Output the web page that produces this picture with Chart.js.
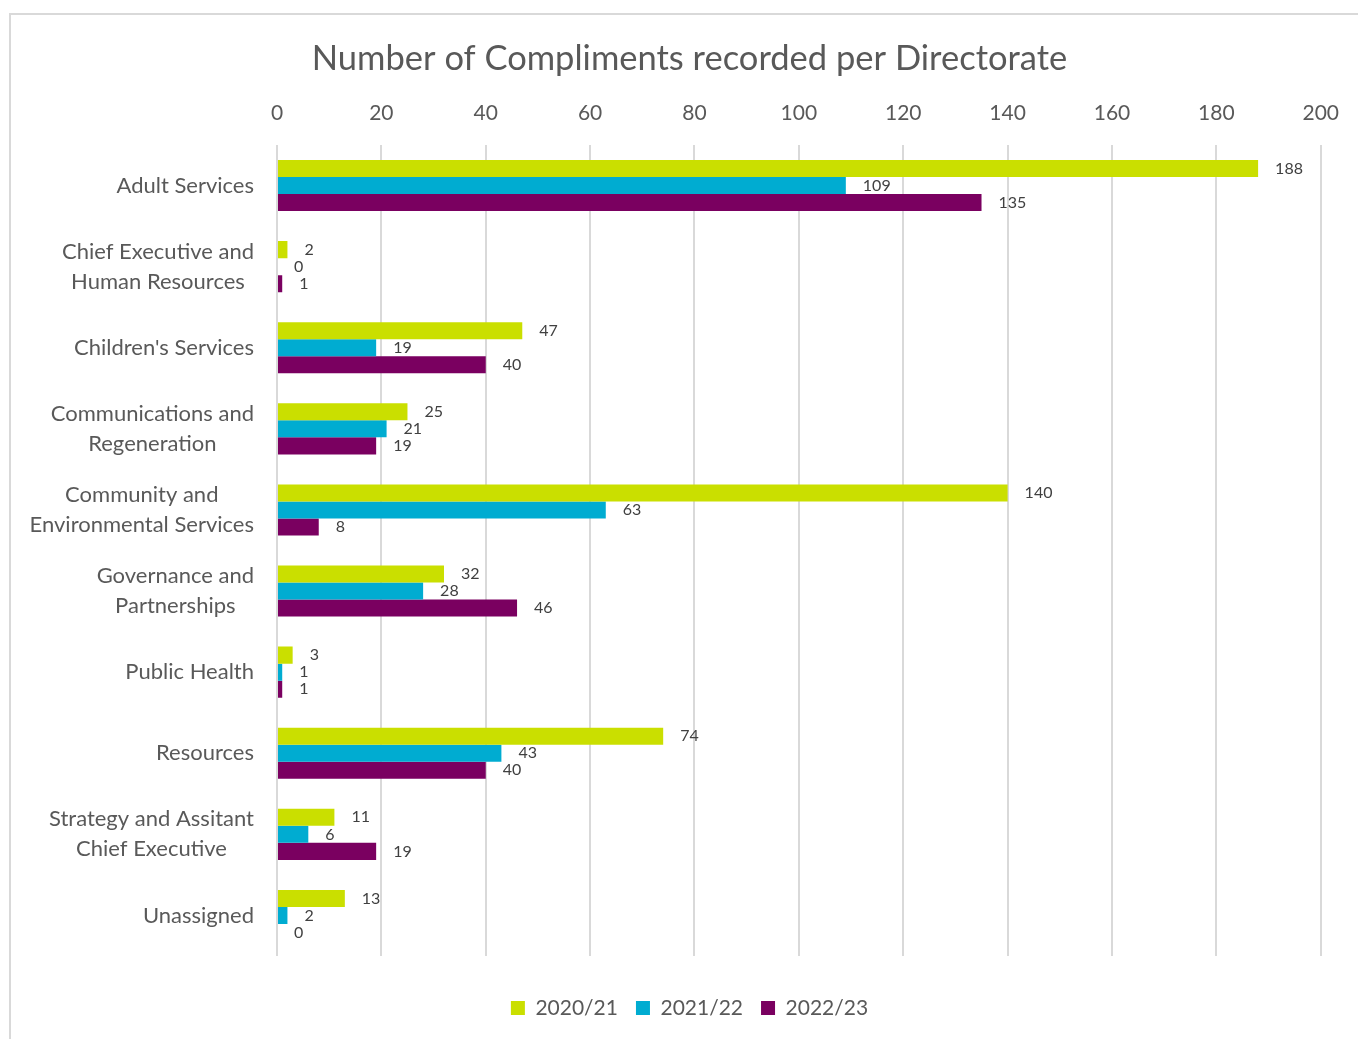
<!DOCTYPE html>
<html lang="en">
<head>
  <meta charset="UTF-8">
  <title>Compliments per Directorate</title>
  <script src="https://cdn.jsdelivr.net/npm/chart.js"></script>
  <style>
    html, body {
      margin: 0;
      padding: 0;
      background: #fff;
      overflow: hidden;
    }

    .page {
      position: relative;
      width: 1358px;
      height: 1039px;
      overflow: hidden;
    }

    .frame {
      position: absolute;
      left: 9px;
      top: 13px;
      width: 1400px;
      height: 1100px;
      border: 2px solid #d9d9d9;
    }

    .chart-box {
      position: absolute;
      left: 0;
      top: 0;
      width: 1358px;
      height: 1039px;
    }
  </style>
</head>
<body>
  <div class="page">
    <div class="frame"></div>
    <div class="chart-box">
      <canvas id="complimentsChart"></canvas>
    </div>
  </div>

  <script>
    const categories = [
      "Adult Services",
      ["Chief Executive and", "Human Resources"],
      "Children's Services",
      ["Communications and", "Regeneration"],
      ["Community and", "Environmental Services"],
      ["Governance and", "Partnerships"],
      "Public Health",
      "Resources",
      ["Strategy and Assitant", "Chief Executive"],
      "Unassigned"
    ];
    const seriesNames = ["2020/21", "2021/22", "2022/23"];
    const values2020 = [188, 2, 47, 25, 140, 32, 3, 74, 11, 13];
    const values2021 = [109, 0, 19, 21, 63, 28, 1, 43, 6, 2];
    const values2022 = [135, 1, 40, 19, 8, 46, 1, 40, 19, 0];
    const colors = ["#cadf00", "#00acd1", "#7a0060"];

    const FONT = "Lato, 'Open Sans', sans-serif";
    const TEXT = "#595959";

    // value labels just past the end of each bar
    const barLabels = {
      id: "barLabels",
      afterDatasetsDraw(chart) {
        const ctx = chart.ctx;
        ctx.save();
        ctx.font = "16px " + FONT;
        ctx.fillStyle = "#404040";
        ctx.textAlign = "left";
        ctx.textBaseline = "middle";
        chart.data.datasets.forEach((ds, i) => {
          chart.getDatasetMeta(i).data.forEach((bar, j) => {
            ctx.fillText(String(ds.data[j]), bar.x + 17, bar.y);
          });
        });
        ctx.restore();
      }
    };

    // category labels: block right-aligned, lines centred on each other (like Excel)
    const categoryLabels = {
      id: "categoryLabels",
      afterDraw(chart) {
        const ctx = chart.ctx;
        const yScale = chart.scales.y;
        const right = chart.chartArea.left - 23;
        const lineH = 30;
        ctx.save();
        ctx.font = "22px " + FONT;
        ctx.fillStyle = TEXT;
        ctx.textAlign = "center";
        ctx.textBaseline = "middle";
        chart.data.labels.forEach((label, i) => {
          const lines = Array.isArray(label) ? label : [label];
          const widest = Math.max(...lines.map(l => ctx.measureText(l).width));
          const cx = right - widest / 2;
          const cy = yScale.getPixelForTick(i);
          lines.forEach((line, k) => {
            ctx.fillText(line, cx, cy + (k - (lines.length - 1) / 2) * lineH);
          });
        });
        ctx.restore();
      }
    };

    const datasets = [values2020, values2021, values2022].map((vals, i) => ({
      label: seriesNames[i],
      data: vals,
      backgroundColor: colors[i],
      borderWidth: 0,
      categoryPercentage: 0.63,
      barPercentage: 1
    }));

    new Chart(document.getElementById("complimentsChart"), {
      type: "bar",
      data: { labels: categories, datasets },
      plugins: [barLabels, categoryLabels],
      options: {
        indexAxis: "y",
        responsive: true,
        maintainAspectRatio: false,
        animation: false,
        layout: { padding: { top: 0, right: 36, bottom: 10.5, left: 57 } },
        plugins: {
          title: {
            display: true,
            text: "Number of Compliments recorded per Directorate",
            color: TEXT,
            font: { family: FONT, size: 34.5, weight: "normal" },
            padding: { top: 38, bottom: 0 }
          },
          legend: {
            position: "bottom",
            title: { display: true, text: "", font: { size: 1 }, padding: { top: 22.3, bottom: 0 } },
            labels: {
              color: TEXT,
              font: { family: FONT, size: 21 },
              boxWidth: 14,
              boxHeight: 14,
              padding: 18
            }
          },
          tooltip: { enabled: false }
        },
        scales: {
          x: {
            position: "top",
            min: 0,
            max: 200,
            ticks: {
              stepSize: 20,
              color: TEXT,
              font: { family: FONT, size: 21 },
              padding: 19
            },
            grid: { color: "#d9d9d9", lineWidth: 2, drawTicks: false },
            border: { display: false },
            afterFit(scale) { scale.height = 65.6; }
          },
          y: {
            ticks: { display: false },
            grid: { display: false, drawTicks: false },
            border: { display: false },
            afterFit(scale) { scale.width = 220; }
          }
        }
      }
    });
  </script>
</body>
</html>
